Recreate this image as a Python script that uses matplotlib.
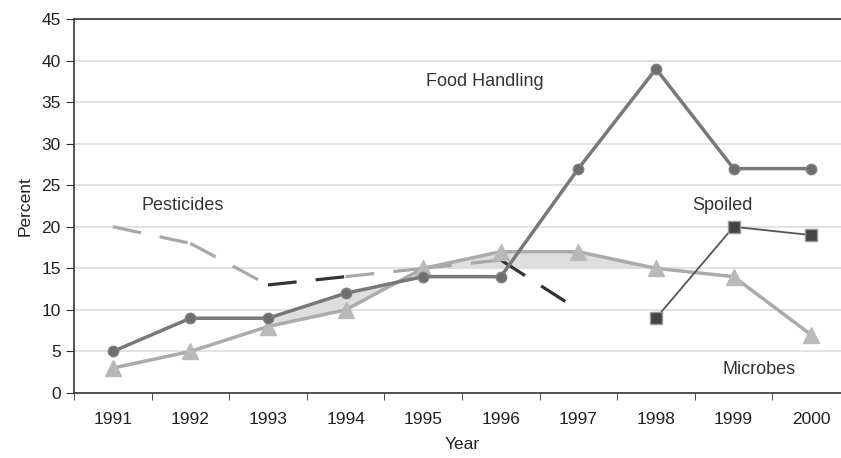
import matplotlib.pyplot as plt
import numpy as np

plt.rcParams['font.family'] = ['Liberation Sans', 'DejaVu Sans']

# data
years = [1991, 1992, 1993, 1994, 1995, 1996, 1997, 1998, 1999, 2000]
food_handling = [5, 9, 9, 12, 14, 14, 27, 39, 27, 27]
microbes = [3, 5, 8, 10, 15, 17, 17, 15, 14, 7]
spoiled_years = [1998, 1999, 2000]
spoiled = [9, 20, 19]
pest_years = [1991, 1992, 1993, 1994, 1995, 1996, 1997]
pesticides = [20, 18, 13, 14, 15, 16, 10]

fig = plt.figure(figsize=(8.41, 4.58), dpi=100)
ax = fig.add_axes([74 / 841, 65 / 458, 776 / 841, 374 / 458])

# gridlines
for v in range(5, 45, 5):
    ax.axhline(v, color='#dddddd', lw=1.2, zorder=0)

# shaded band between the two main series
yr = np.array(years)
fh = np.array(food_handling, dtype=float)
mi = np.array(microbes, dtype=float)
m1 = (yr >= 1993) & (yr <= 1995)
ax.fill_between(yr[m1], mi[m1], fh[m1], color='#dedede', zorder=1, lw=0)
m2 = (yr >= 1995) & (yr <= 1998)
ax.fill_between(yr[m2], 15, mi[m2], color='#dedede', zorder=1, lw=0)

# pesticides dashed, dark in the middle part
seg_colors = ['#a8a8a8', '#a8a8a8', '#333333', '#a8a8a8', '#a8a8a8', '#333333']
for i in range(len(pest_years) - 1):
    ax.plot(pest_years[i:i + 2], pesticides[i:i + 2], color=seg_colors[i],
            lw=2.3, dashes=(9, 6), zorder=2)

ax.plot(years, microbes, color='#ababab', lw=2.5, marker='^', ms=11,
        mfc='#b9b9b9', mec='#b9b9b9', zorder=3)
ax.plot(years, food_handling, color='#787878', lw=2.5, marker='o', ms=7.5,
        mfc='#6e6e6e', mec='#808080', zorder=4)
ax.plot(spoiled_years, spoiled, color='#555555', lw=1.3, marker='s', ms=8,
        mfc='#444444', mec='#999999', mew=1, zorder=5)

ax.text(1995.8, 37.5, 'Food Handling', ha='center', va='center', fontsize=13, color='#333333')
ax.text(1991.9, 22.5, 'Pesticides', ha='center', va='center', fontsize=13, color='#333333')
ax.text(1998.85, 22.5, 'Spoiled', ha='center', va='center', fontsize=13, color='#333333')
ax.text(1999.33, 2.8, 'Microbes', ha='center', va='center', fontsize=13, color='#333333')

ax.set_xlim(1990.5, 2000.5)
ax.set_ylim(0, 45)
ax.set_yticks(range(0, 50, 5))
ax.set_xticks(years)
ax.set_xticks(np.arange(1990.5, 2001, 1), minor=True)
ax.tick_params(axis='x', which='major', length=0, pad=14, labelsize=12.5, labelcolor='#222222')
ax.tick_params(axis='x', which='minor', length=5, direction='out', color='#333333')
ax.tick_params(axis='y', length=6, direction='out', labelsize=12.5, labelcolor='#222222', color='#333333')
ax.spines['right'].set_visible(False)
for s in ['left', 'bottom', 'top']:
    ax.spines[s].set_color('#333333')
    ax.spines[s].set_linewidth(1.2)

ax.set_xlabel('Year', fontsize=12.5, color='#222222', labelpad=7)
ax.set_ylabel('Percent', fontsize=12.5, color='#222222', labelpad=6)

fig.savefig('out.png', dpi=100)
